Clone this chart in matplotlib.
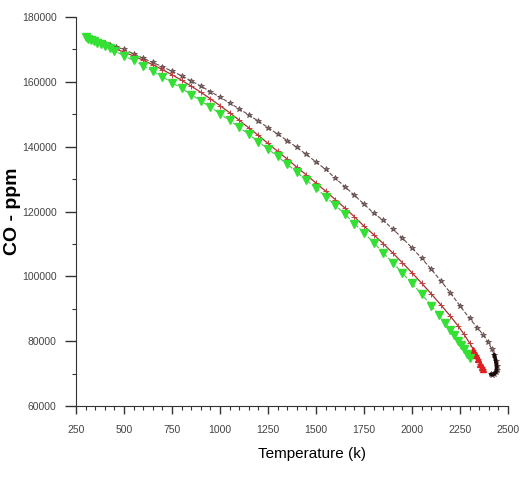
# CO concentration vs temperature for three runs
import matplotlib.pyplot as plt
from matplotlib.ticker import MultipleLocator

plt.rcParams['font.family'] = ['Liberation Sans', 'DejaVu Sans']

# Green run (triangles)
green_t = [300, 315, 330, 345, 360, 380, 400, 425, 450, 500, 550, 600, 650,
           700, 750, 800, 850, 900, 950, 1000, 1050, 1100, 1150, 1200, 1250,
           1300, 1350, 1400, 1450, 1500, 1550, 1600, 1650, 1700, 1750, 1800,
           1850, 1900, 1950, 2000, 2050, 2100, 2140, 2170, 2200, 2220, 2240,
           2255, 2270, 2285, 2300]
green_co = [173700, 173300, 172900, 172500, 172100, 171600, 171000, 170300,
            169600, 168100, 166600, 165000, 163300, 161600, 159800, 158000,
            156100, 154200, 152200, 150200, 148100, 146000, 143800, 141600,
            139300, 137000, 134600, 132200, 129700, 127200, 124600, 122000,
            119200, 116300, 113400, 110400, 107300, 104200, 101000, 97800,
            94500, 91000, 88000, 85700, 83400, 81800, 80100, 78800, 77500,
            76100, 74700]

# Red run (crosses)
red_t = [350, 380, 400, 430, 460, 500, 550, 600, 650, 700, 750, 800, 850,
         900, 950, 1000, 1050, 1100, 1150, 1200, 1250, 1300, 1350, 1400, 1450,
         1500, 1550, 1600, 1650, 1700, 1750, 1800, 1850, 1900, 1950, 2000,
         2050, 2100, 2150, 2200, 2240, 2270, 2300, 2320, 2335, 2345, 2355,
         2362, 2368]
red_co = [172600, 172000, 171500, 170800, 170100, 169200, 168000, 166700,
          165300, 163800, 162200, 160500, 158700, 156800, 154800, 152700,
          150500, 148200, 145800, 143500, 141000, 138600, 136200, 133700,
          131300, 128800, 126300, 123700, 121100, 118400, 115500, 112900,
          110100, 107200, 104200, 101100, 97900, 94600, 91200, 87700, 84700,
          82200, 79400, 77400, 75700, 74400, 73100, 72100, 71300]

# Dark run (stars), curls back at the hot end
dark_t = [380, 400, 430, 460, 500, 550, 600, 650, 700, 750, 800, 850, 900,
          950, 1000, 1050, 1100, 1150, 1200, 1250, 1300, 1350, 1400, 1450,
          1500, 1550, 1600, 1650, 1700, 1750, 1800, 1850, 1900, 1950, 2000,
          2050, 2100, 2150, 2200, 2250, 2300, 2340, 2370, 2395, 2415, 2428,
          2436, 2440, 2440, 2436, 2428, 2418, 2410]
dark_co = [172300, 172000, 171400, 170800, 170000, 168700, 167300, 166000,
           164700, 163300, 161900, 160300, 158700, 157000, 155300, 153500,
           151700, 149800, 147900, 145900, 143900, 141900, 139800, 137600,
           135300, 133000, 130300, 127700, 125000, 122300, 119500, 117300,
           114600, 111800, 108800, 105600, 102200, 98600, 94900, 90900,
           87000, 84200, 82000, 79800, 77600, 75800, 74000, 72400, 71200,
           70400, 69900, 69700, 69800]

x_ticks = [250, 500, 750, 1000, 1250, 1500, 1750, 2000, 2250, 2500]
y_ticks = [60000, 80000, 100000, 120000, 140000, 160000, 180000]

fig = plt.figure(figsize=(5.2, 4.79), dpi=100)
ax = fig.add_axes([0.146, 0.1524, 0.831, 0.812])

ax.plot(dark_t, dark_co, color='#6a4a4a', lw=0.8, ls='--',
        marker='*', ms=4, mfc='#807070', mec='#5a4040', mew=0.5)
# thick black tail where the points bunch up
ax.plot(dark_t[-8:], dark_co[-8:], color='#1a0a0a', lw=2.6,
        solid_capstyle='round')

ax.plot(red_t, red_co, color='#a83030', lw=0.9, ls='-',
        marker='+', ms=4, mec='#c04040', mew=0.7)
ax.plot(red_t[-6:], red_co[-6:], color='#e02020', lw=2.2, ls='none',
        marker='^', ms=4, mec='#e02020')

ax.plot(green_t, green_co, color='#55bb55', lw=0.8, ls='--',
        marker='v', ms=6, mfc='#33e033', mec='#33e033')

ax.set_xlim(250, 2500)
ax.set_ylim(60000, 180000)
ax.set_xticks(x_ticks)
ax.set_yticks(y_ticks)
ax.xaxis.set_minor_locator(MultipleLocator(50))
ax.yaxis.set_minor_locator(MultipleLocator(10000))

# only left and bottom axis lines
ax.spines['top'].set_visible(False)
ax.spines['right'].set_visible(False)
ax.spines['left'].set_color('#333333')
ax.spines['bottom'].set_color('#333333')

ax.tick_params(which='major', length=6, width=1, color='#333333',
               labelsize=7.5, labelcolor='#444444')
ax.tick_params(which='minor', length=3, width=0.8, color='#333333')
ax.tick_params(axis='y', which='major', length=8, pad=6)
ax.tick_params(axis='x', which='major', pad=8)

ax.set_xlabel('Temperature (k)', fontsize=11)
ax.set_ylabel('CO - ppm', fontsize=14, fontweight='bold')
ax.xaxis.set_label_coords(0.546, -0.105)
ax.yaxis.set_label_coords(-0.128, 0.5)

plt.savefig('out.png', dpi=100)
